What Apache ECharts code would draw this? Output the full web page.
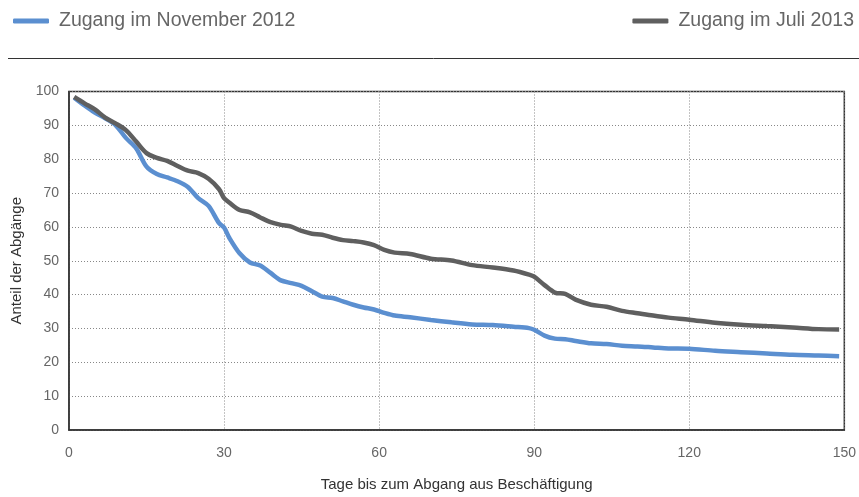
<!DOCTYPE html>
<html>
<head>
    <meta charset="utf-8">
    <title>Abgänge</title>
    <script src="https://cdn.jsdelivr.net/npm/echarts@6/dist/echarts.min.js"></script>
    <style>
        html, body {margin:0;padding:0;background:#fff;}
        #chart {width:859px;height:497px;}
    </style>
</head>
<body>
<div id="chart"></div>
<script>
    // Tage
    const days = [1,3,5,7,9,11,13,15,17,19,21,23,25,27,29,30,31,33,35,37,39,41,43,45,47,49,51,53,55,57,59,61,63,66,70,74,78,82,86,89,90,92,94,96,98,101,104,107,110,113,116,120,125,130,135,140,145,149];
    // Zugang im November 2012
    const nov2012 = [98.2,95.9,93.8,92.1,90.1,86.3,83.2,77.8,75.6,74.6,73.5,71.8,68.5,66.2,61.2,59.8,56.8,52.2,49.5,48.6,46.4,44.2,43.4,42.6,41,39.4,39,38,37,36.2,35.6,34.6,33.8,33.3,32.5,31.8,31.2,31,30.5,30.1,29.6,27.9,27,26.8,26.3,25.6,25.4,24.9,24.7,24.4,24.1,24,23.4,23,22.6,22.2,22,21.8];
    // Zugang im Juli 2013
    const jul2013 = [98.4,96.5,94.7,92.3,90.6,88.6,85.2,81.8,80.4,79.5,78,76.6,75.9,74.2,71.2,68.5,67.2,65,64.3,62.8,61.4,60.6,60.1,58.8,58,57.7,56.8,56.1,55.8,55.4,54.6,53.2,52.4,52,50.6,50.1,48.7,48,47.1,45.9,45.3,42.8,40.6,40.2,38.5,37,36.4,35.2,34.5,33.8,33.2,32.6,31.7,31.1,30.7,30.3,29.8,29.7];
    const seriesNames = ['Zugang im November 2012', 'Zugang im Juli 2013'];
    const colors = ['#5b8fd0', '#5f5f5f'];

    const font = 'Liberation Sans, Arial, sans-serif';
    const pairs = arr => days.map((d, i) => [d, arr[i]]);

    const chart = echarts.init(document.getElementById('chart'));
    const legendBase = {
        orient: 'horizontal',
        top: 6,
        icon: 'roundRect',
        itemWidth: 36,
        itemHeight: 5,
        itemGap: 10,
        textStyle: {color: '#666', fontSize: 19.5, fontFamily: font, padding: [0, 0, 0, 5]}
    };
    chart.setOption({
        animation: false,
        color: colors,
        textStyle: {fontFamily: font},
        legend: [
            Object.assign({}, legendBase, {left: 8, data: [seriesNames[0]]}),
            Object.assign({}, legendBase, {right: 0, data: [seriesNames[1]]})
        ],
        graphic: [{
            type: 'line',
            shape: {x1: 8, y1: 58.5, x2: 859, y2: 58.5},
            style: {stroke: '#333', lineWidth: 1}
        }],
        grid: {
            left: 69, right: 11.5, top: 91.5, bottom: 64.5,
            show: true, borderColor: '#333', borderWidth: 1.5
        },
        xAxis: {
            type: 'value', min: 0, max: 150, interval: 30,
            name: 'Tage bis zum Abgang aus Beschäftigung',
            nameLocation: 'middle', nameGap: 47,
            nameTextStyle: {color: '#333', fontSize: 15},
            axisLine: {lineStyle: {color: '#333', width: 1.5}},
            axisTick: {show: false},
            axisLabel: {color: '#666', fontSize: 14, margin: 16},
            splitLine: {show: true, lineStyle: {color: '#888', type: [1, 2], width: 1}}
        },
        yAxis: {
            type: 'value', min: 0, max: 100, interval: 10,
            name: 'Anteil der Abgänge',
            nameLocation: 'middle', nameGap: 41, nameRotate: 90,
            nameTextStyle: {color: '#333', fontSize: 15},
            axisLine: {show: true, lineStyle: {color: '#333', width: 1.5}},
            axisTick: {show: false},
            axisLabel: {color: '#666', fontSize: 14, margin: 10},
            splitLine: {lineStyle: {color: '#888', type: [1, 2], width: 1}}
        },
        series: [
            {name: seriesNames[0], type: 'line', data: pairs(nov2012), smooth: 0.3, showSymbol: false,
                lineStyle: {width: 4.5, color: colors[0]}, itemStyle: {color: colors[0]}},
            {name: seriesNames[1], type: 'line', data: pairs(jul2013), smooth: 0.3, showSymbol: false,
                lineStyle: {width: 4.5, color: colors[1]}, itemStyle: {color: colors[1]}}
        ]
    });
</script>
</body>
</html>
